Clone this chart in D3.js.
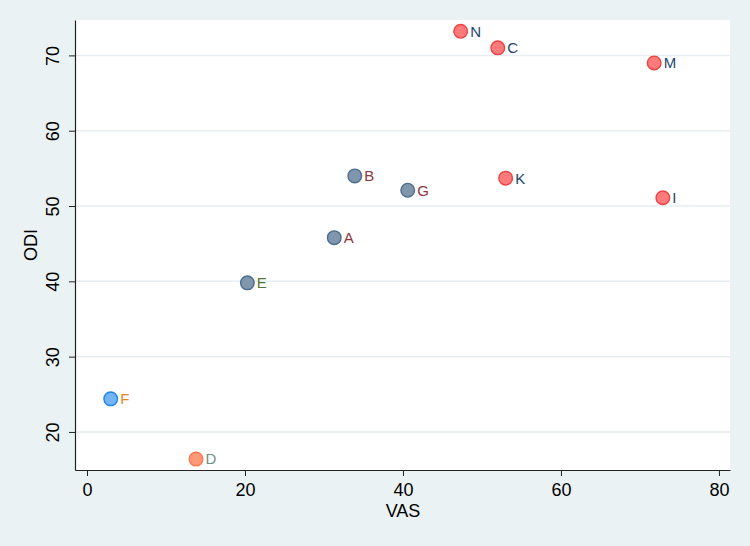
<!DOCTYPE html>
<meta charset="utf-8">
<script src="https://cdnjs.cloudflare.com/ajax/libs/d3/7.8.5/d3.min.js"></script>
<style>
  body { margin: 0; background: #eaf2f3; font-family: "Liberation Sans", Arial, sans-serif; }
</style>
<body>
<div id="chart"></div>
<script>
  // patient labels, VAS (x) and ODI (y), group
  var labels = ["N", "C", "M", "B", "G", "K", "I", "A", "E", "F", "D"];
  var vas    = [47.3, 52.0, 71.8, 33.9, 40.6, 53.0, 72.9, 31.3, 20.3, 3.0, 13.8];
  var odi    = [73.2, 71.0, 69.0, 54.0, 52.1, 53.7, 51.1, 45.8, 39.8, 24.4, 16.4];
  var groups = ["red", "red", "red", "grey", "grey", "red", "red", "grey", "grey", "blue", "orange"];
  var xTicks = [0, 20, 40, 60, 80];
  var yTicks = [20, 30, 40, 50, 60, 70];

  var markFill   = { red: "#ff7b7b", grey: "#7f96ad", blue: "#73b4f7", orange: "#ff9a78" };
  var markStroke = { red: "#ec4444", grey: "#4f6f8f", blue: "#2283e6", orange: "#ff7550" };
  var labelColor = { N: "#1a476f", C: "#1a476f", M: "#1a476f", K: "#1a476f", I: "#1a476f",
                     B: "#90353b", G: "#90353b", A: "#90353b",
                     E: "#55752f", F: "#e8861a", D: "#6e8e84" };

  var WIDTH = 750, HEIGHT = 546;
  var mLeft = 75, mRight = 730, mTop = 20, mBottom = 470;
  var FONT = "Liberation Sans, Arial, sans-serif";

  var svg = d3.select("#chart").append("svg")
    .attr("width", WIDTH)
    .attr("height", HEIGHT)
    .style("font-family", FONT);

  svg.append("rect").attr("width", WIDTH).attr("height", HEIGHT).attr("fill", "#eaf2f3");
  svg.append("rect")
    .attr("x", mLeft).attr("y", mTop)
    .attr("width", mRight - mLeft).attr("height", mBottom - mTop)
    .attr("fill", "white");

  var x = d3.scaleLinear().domain([-1.52, 81.4]).range([mLeft, mRight]);
  var y = d3.scaleLinear().domain([14.95, 74.7]).range([mBottom, mTop]);

  // grid
  svg.selectAll(".grid").data(yTicks).enter().append("line")
    .attr("x1", mLeft).attr("x2", mRight)
    .attr("y1", function(d) { return y(d); })
    .attr("y2", function(d) { return y(d); })
    .attr("stroke", "#e6eef1")
    .attr("stroke-width", 1.5);

  var xAxis = svg.append("g")
    .attr("transform", "translate(0," + mBottom + ")")
    .call(d3.axisBottom(x).tickValues(xTicks).tickSize(6).tickSizeOuter(0).tickPadding(7));
  xAxis.select(".domain").attr("stroke", "#222").attr("stroke-width", 1.2);
  xAxis.selectAll(".tick line").attr("stroke", "#222");
  xAxis.selectAll("text").attr("font-size", 18).attr("fill", "#000").attr("font-family", FONT);

  var yAxis = svg.append("g")
    .attr("transform", "translate(" + mLeft + ",0)")
    .call(d3.axisLeft(y).tickValues(yTicks).tickSize(6).tickSizeOuter(0));
  yAxis.select(".domain").attr("stroke", "#222").attr("stroke-width", 1.2);
  yAxis.selectAll(".tick line").attr("stroke", "#222");
  yAxis.selectAll("text")
    .attr("font-size", 18).attr("fill", "#000")
    .attr("font-family", FONT)
    .attr("x", 0)
    .attr("dy", 0)
    .attr("text-anchor", "middle")
    .attr("transform", "translate(-16,0) rotate(-90)");

  // axis titles
  svg.append("text")
    .attr("x", (mLeft + mRight) / 2 + 0.5).attr("y", 517)
    .attr("text-anchor", "middle")
    .attr("font-size", 18)
    .text("VAS");
  svg.append("text")
    .attr("transform", "translate(37," + ((mTop + mBottom) / 2) + ") rotate(-90)")
    .attr("text-anchor", "middle")
    .attr("font-size", 18)
    .text("ODI");

  var pts = svg.selectAll(".pt").data(labels).enter().append("g");
  pts.append("circle")
    .attr("cx", function(d, i) { return x(vas[i]); })
    .attr("cy", function(d, i) { return y(odi[i]); })
    .attr("r", 6.8)
    .attr("fill", function(d, i) { return markFill[groups[i]]; })
    .attr("stroke", function(d, i) { return markStroke[groups[i]]; })
    .attr("stroke-width", 1.4);
  pts.append("text")
    .attr("x", function(d, i) { return x(vas[i]) + 9.5; })
    .attr("y", function(d, i) { return y(odi[i]); })
    .attr("dy", "0.36em")
    .attr("font-size", 15)
    .attr("fill", function(d) { return labelColor[d]; })
    .text(function(d) { return d; });
</script>
</body>
